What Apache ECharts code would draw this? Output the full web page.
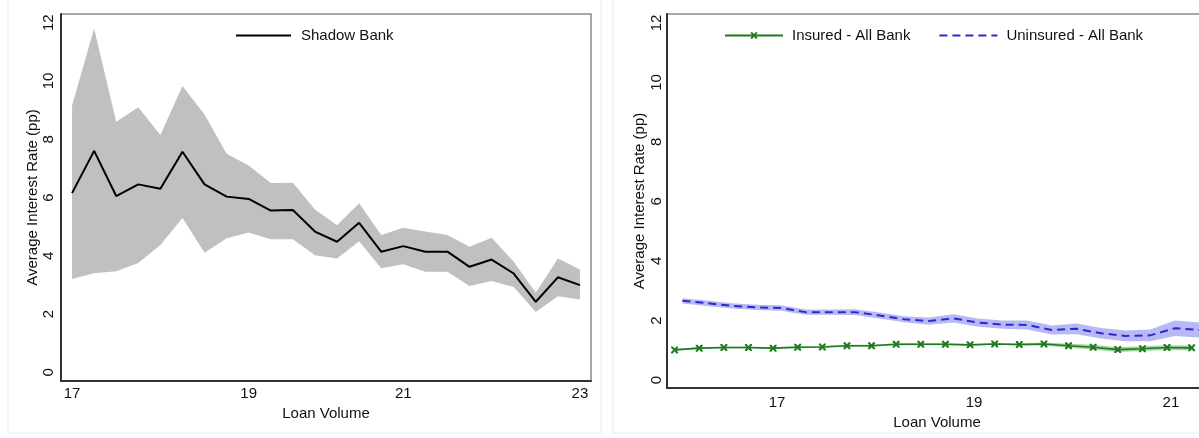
<!DOCTYPE html>
<html>
<head>
<meta charset="utf-8">
<script src="https://cdn.jsdelivr.net/npm/echarts@6/dist/echarts.min.js"></script>
<style>
html,body{margin:0;padding:0;background:#fff;overflow:hidden;width:1199px;height:438px;}
#c{width:1260px;height:438px;}
</style>
</head>
<body>
<div id="c"></div>
<script>
// ---- Left panel: Shadow Bank (x = bin index, labelled 17..23) ----
const leftX = [0,1,2,3,4,5,6,7,8,9,10,11,12,13,14,15,16,17,18,19,20,21,22,23];
const leftTickPos = [0, 8, 15, 23];
const leftTickLabels = ['17', '19', '21', '23'];
const shadowMean  = [6.15,7.6,6.05,6.45,6.3,7.57,6.45,6.03,5.95,5.55,5.57,4.83,4.48,5.13,4.14,4.33,4.14,4.14,3.62,3.87,3.39,2.42,3.26,2.99];
const shadowUpper = [9.15,11.8,8.6,9.1,8.15,9.83,8.85,7.5,7.1,6.5,6.51,5.59,5.05,5.8,4.71,4.96,4.83,4.71,4.31,4.62,3.79,2.73,3.91,3.53];
const shadowLower = [3.2,3.4,3.47,3.75,4.37,5.3,4.1,4.6,4.8,4.57,4.57,4.02,3.91,4.5,3.57,3.71,3.45,3.45,2.96,3.13,2.93,2.07,2.61,2.5];

// ---- Right panel: All Bank ----
const insuredX = [15.96,16.21,16.46,16.71,16.96,17.21,17.46,17.71,17.96,18.21,18.46,18.71,18.96,19.21,19.46,19.71,19.96,20.21,20.46,20.71,20.96,21.21];
const insuredMean  = [1.01,1.07,1.09,1.09,1.07,1.10,1.11,1.15,1.15,1.20,1.20,1.20,1.18,1.21,1.19,1.21,1.15,1.10,1.02,1.05,1.09,1.08];
const insuredUpper = [1.04,1.10,1.12,1.12,1.10,1.13,1.14,1.18,1.18,1.23,1.23,1.23,1.21,1.24,1.23,1.26,1.22,1.18,1.10,1.13,1.17,1.16];
const insuredLower = [0.98,1.04,1.06,1.06,1.04,1.07,1.08,1.12,1.12,1.17,1.17,1.17,1.15,1.18,1.15,1.16,1.08,1.02,0.94,0.97,1.01,1.00];
const uninsuredX = [16.04,16.29,16.54,16.79,17.04,17.29,17.54,17.79,18.04,18.29,18.54,18.79,19.04,19.29,19.54,19.79,20.04,20.29,20.54,20.79,21.04,21.29];
const uninsuredMean  = [2.66,2.58,2.49,2.44,2.42,2.28,2.28,2.28,2.17,2.04,1.98,2.07,1.93,1.86,1.85,1.68,1.72,1.57,1.48,1.50,1.74,1.68];
const uninsuredUpper = [2.75,2.67,2.58,2.53,2.51,2.37,2.37,2.38,2.27,2.14,2.10,2.21,2.07,2.00,2.00,1.83,1.90,1.75,1.66,1.70,2.00,1.93];
const uninsuredLower = [2.57,2.49,2.40,2.35,2.33,2.19,2.19,2.18,2.07,1.94,1.86,1.93,1.79,1.72,1.70,1.53,1.54,1.39,1.30,1.30,1.48,1.43];

const yTicks = [0, 2, 4, 6, 8, 10, 12];
const rightXTicks = [17, 19, 21];

const FONT = '"Liberation Sans", Arial, sans-serif';
const pairs = (xs, ys) => xs.map((x, i) => [x, ys[i]]);

const xMark = 'path://M0,0 L2.5,0 L5,3 L7.5,0 L10,0 L10,2 L7,5 L10,8 L10,10 L7.5,10 L5,7 L2.5,10 L0,10 L0,8 L3,5 L0,2 Z';

function bandSeries(gi, xs, lo, up, color) {
  return {
    type: 'custom', xAxisIndex: gi, yAxisIndex: gi, silent: true, z: 1, clip: true,
    data: xs.map((x, i) => [x, lo[i], up[i]]),
    encode: {x: 0, y: [1, 2]},
    renderItem: function (params, api) {
      if (params.dataIndexInside !== 0) return null;
      const n = params.dataInsideLength;
      const top = [], bot = [];
      for (let i = 0; i < n; i++) {
        top.push(api.coord([api.value(0, i), api.value(2, i)]));
        bot.push(api.coord([api.value(0, i), api.value(1, i)]));
      }
      return {type: 'polygon', shape: {points: top.concat(bot.reverse())}, style: {fill: color}};
    }
  };
}

const chart = echarts.init(document.getElementById('c'));

function yAxisCfg(gridIndex, gap, margin, min) {
  return {
    type: 'value', gridIndex: gridIndex, min: min, max: 12.3,
    name: 'Average Interest Rate (pp)', nameLocation: 'middle', nameGap: gap,
    nameTextStyle: {fontFamily: FONT, fontSize: 15, color: '#111'},
    axisLine: {show: true, onZero: false, lineStyle: {color: '#333', width: 2}},
    axisTick: {show: false},
    splitLine: {show: false},
    axisLabel: {customValues: yTicks, rotate: 90, margin: margin, fontFamily: FONT, fontSize: 15, color: '#111'}
  };
}

const option = {
  backgroundColor: '#fff',
  animation: false,
  graphic: [
    {type: 'rect', silent: true, z: -10, shape: {x: 8, y: -5, width: 593, height: 438}, style: {fill: 'none', stroke: '#e4ecf1', lineWidth: 1}},
    {type: 'rect', silent: true, z: -10, shape: {x: 613, y: -5, width: 640, height: 438}, style: {fill: 'none', stroke: '#e4ecf1', lineWidth: 1}}
  ],
  grid: [
    {left: 61, top: 14, width: 530, height: 367, show: true, borderColor: '#8a8a8a', borderWidth: 1.5},
    {left: 667, top: 14, width: 540, height: 374, show: true, borderColor: '#8a8a8a', borderWidth: 1.5}
  ],
  xAxis: [
    {
      type: 'value', gridIndex: 0, min: -0.5, max: 23.5,
      name: 'Loan Volume', nameLocation: 'middle', nameGap: 17,
      nameTextStyle: {fontFamily: FONT, fontSize: 15, color: '#111'},
      axisLine: {show: true, onZero: false, lineStyle: {color: '#333', width: 2}},
      axisTick: {show: false}, splitLine: {show: false},
      axisLabel: {customValues: leftTickPos, margin: 5, fontFamily: FONT, fontSize: 15, color: '#111',
        formatter: v => leftTickLabels[leftTickPos.indexOf(Math.round(v))] || ''}
    },
    {
      type: 'value', gridIndex: 1, min: 15.883, max: 21.366,
      name: 'Loan Volume', nameLocation: 'middle', nameGap: 18,
      nameTextStyle: {fontFamily: FONT, fontSize: 15, color: '#111'},
      axisLine: {show: true, onZero: false, lineStyle: {color: '#333', width: 2}},
      axisTick: {show: false}, splitLine: {show: false},
      axisLabel: {customValues: rightXTicks, margin: 7, fontFamily: FONT, fontSize: 15, color: '#111'}
    }
  ],
  yAxis: [
    yAxisCfg(0, 16, 5, -0.3),
    yAxisCfg(1, 20, 3, -0.27)
  ],
  legend: [
    {
      data: [{name: 'Shadow Bank', itemStyle: {opacity: 0}}], left: 230, top: 23, itemWidth: 55, itemHeight: 8,
      textStyle: {fontFamily: FONT, fontSize: 15, color: '#111', padding: [0, 0, 0, 5]}
    },
    {
      data: ['Insured - All Bank', {name: 'Uninsured - All Bank', itemStyle: {opacity: 0}}],
      left: 719, top: 23, itemWidth: 58, itemHeight: 8, itemGap: 28,
      textStyle: {fontFamily: FONT, fontSize: 15, color: '#111', padding: [0, 0, 0, 4]}
    }
  ],
  series: [
    bandSeries(0, leftX, shadowLower, shadowUpper, '#c0c0c0'),
    {type: 'line', name: 'Shadow Bank', xAxisIndex: 0, yAxisIndex: 0, data: pairs(leftX, shadowMean),
      symbol: 'none', lineStyle: {color: '#000', width: 2}, itemStyle: {color: '#000'}, z: 5},

    bandSeries(1, uninsuredX, uninsuredLower, uninsuredUpper, '#b8b8f5'),
    bandSeries(1, insuredX, insuredLower, insuredUpper, '#a6d4a6'),
    {type: 'line', name: 'Uninsured - All Bank', xAxisIndex: 1, yAxisIndex: 1, data: pairs(uninsuredX, uninsuredMean),
      symbol: 'none', lineStyle: {color: '#2a2ad2', width: 2, type: [8, 5]}, itemStyle: {color: '#2a2ad2'}, z: 5},
    {type: 'line', name: 'Insured - All Bank', xAxisIndex: 1, yAxisIndex: 1, data: pairs(insuredX, insuredMean),
      symbol: xMark, symbolSize: 7, showSymbol: true,
      lineStyle: {color: '#1f7a1f', width: 1.6}, itemStyle: {color: '#1f7a1f'}, z: 6}
  ]
};
chart.setOption(option);
</script>
</body>
</html>
